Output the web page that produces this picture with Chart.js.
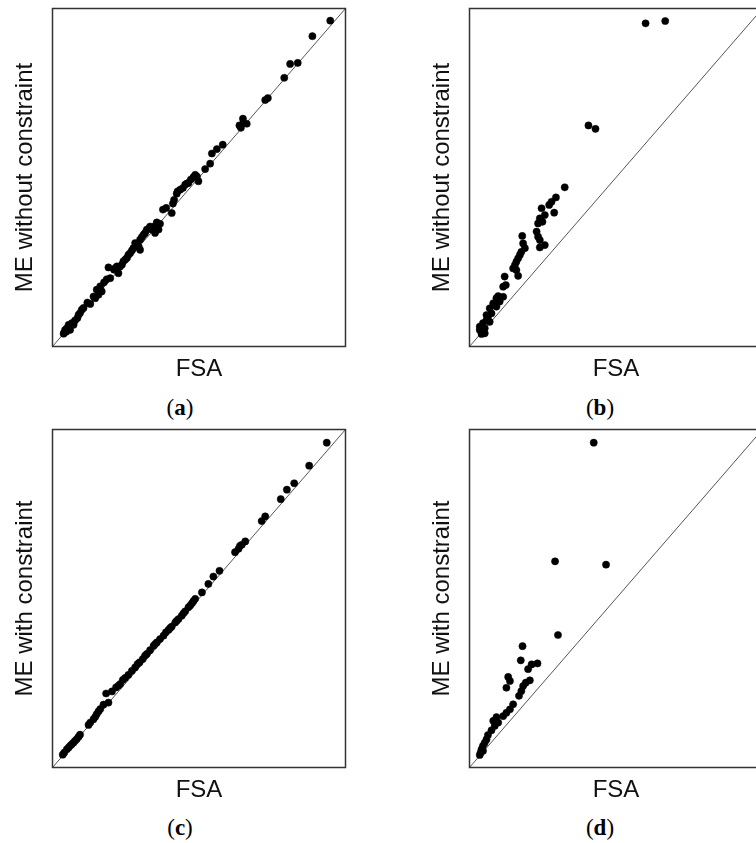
<!DOCTYPE html>
<html>
<head>
<meta charset="utf-8">
<title>ME vs FSA</title>
<script src="https://cdn.jsdelivr.net/npm/chart.js@4.4.1/dist/chart.umd.min.js"></script>
<style>
  html, body { margin: 0; padding: 0; background: #fff; width: 756px; height: 843px; overflow: hidden; }
  .panel { position: absolute; width: 378px; height: 390px; overflow: hidden; }
  .panel canvas { position: absolute; left: 0; top: 0; }
  .caption { position: absolute; width: 80px; margin-left: -40px; text-align: center;
             font-family: "Liberation Serif", "Times New Roman", serif; font-size: 23px; line-height: 26px; color: #000; }
</style>
</head>
<body>
<div class="panel" style="left:0;top:0"><canvas id="chartA" width="378" height="390"></canvas></div>
<div class="panel" style="left:417px;top:0;width:339px"><canvas id="chartB" width="378" height="390"></canvas></div>
<div class="panel" style="left:0;top:421px"><canvas id="chartC" width="378" height="390"></canvas></div>
<div class="panel" style="left:417px;top:421px;width:339px"><canvas id="chartD" width="378" height="390"></canvas></div>
<div class="caption" style="left:180px;top:395px">(<b>a</b>)</div>
<div class="caption" style="left:600px;top:395px">(<b>b</b>)</div>
<div class="caption" style="left:180px;top:815px">(<b>c</b>)</div>
<div class="caption" style="left:600px;top:815px">(<b>d</b>)</div>

<script>
// Axis range (no ticks shown, both axes share the same scale)
const axisMin = 0;
const axisMax = 100;

const xTitle = 'FSA';
const yTitles = ['ME without constraint', 'ME without constraint', 'ME with constraint', 'ME with constraint'];

// (a) ME without constraint vs FSA
const fsaA = [94.8, 88.7, 83.7, 81.1, 79.1, 73.5, 72.6, 65.0, 63.8, 65.2, 66.3, 64.3, 58.1, 56.1, 54.4, 53.8,
  52.1, 49.3, 48.1, 47.2, 46.4, 45.3, 44.5, 43.6, 42.4, 41.5, 41.1, 40.7, 38.8, 37.7, 36.7, 35.6, 34.7, 33.9,
  33.1, 32.2, 35.0, 31.6, 30.5, 29.9, 28.2, 29.4, 29.9, 27.6, 27.1, 25.9, 25.4, 24.2, 23.1, 22.0, 21.0, 22.5,
  19.1, 19.7, 18.5, 17.6, 16.3, 15.1, 16.8, 15.7, 14.6, 12.9, 11.9, 10.0, 9.4, 8.5, 7.7, 6.6, 5.5, 4.9, 4.3,
  4.0, 3.8, 6.0, 8.9, 24.8, 33.3,
  4.7, 6.0, 7.2, 10.6, 14.0, 16.3, 21.4, 23.7, 26.5, 28.8, 31.1, 34.5, 36.2, 42.7, 45.8, 48.7, 49.8];
const meA = [96.4, 91.8, 83.9, 83.6, 79.5, 73.5, 72.9, 67.4, 65.4, 66.1, 65.9, 64.7, 59.7, 58.4, 57.1, 54.1,
  52.5, 50.3, 50.1, 49.4, 48.4, 47.9, 46.9, 46.4, 45.2, 43.4, 42.3, 39.5, 41.0, 40.5, 36.3, 36.7, 35.5, 34.6,
  35.0, 34.6, 33.6, 33.6, 32.4, 31.6, 30.6, 29.6, 28.6, 29.1, 28.4, 27.1, 26.2, 25.2, 23.7, 23.7, 22.7, 21.7,
  23.4, 20.2, 19.9, 19.0, 17.8, 16.8, 16.3, 15.3, 14.3, 12.6, 13.0, 10.9, 9.9, 8.4, 7.7, 6.9, 6.4, 5.4, 4.9,
  4.1, 3.8, 5.9, 9.4, 25.7, 35.5,
  4.4, 4.9, 6.4, 11.4, 14.8, 16.3, 23.2, 24.2, 27.6, 30.1, 33.1, 35.0, 34.6, 45.9, 48.2, 50.8, 48.9];

// (b) ME without constraint vs FSA
const fsaB = [60.1, 66.8, 40.6, 43.0, 32.5, 29.5, 28.0, 27.2, 24.6, 28.9, 25.7, 24.0, 24.9, 23.4, 22.9, 23.4,
  24.0, 25.7, 24.0, 18.0, 18.3, 18.9, 17.7, 17.2, 16.6, 16.0, 15.5, 14.9, 16.0, 16.6, 12.0, 12.4, 11.5, 9.8,
  11.5, 9.2, 8.1, 9.2, 6.9, 7.5, 6.3, 5.8, 6.9, 4.6, 4.1, 5.2, 3.5, 4.6, 5.2, 4.1, 3.5, 5.8, 10.3];
const meB = [95.6, 96.3, 65.4, 64.4, 47.1, 44.1, 42.8, 41.9, 40.9, 39.6, 38.9, 37.9, 36.9, 36.4, 34.0, 32.5,
  31.5, 30.0, 29.3, 32.7, 30.5, 29.1, 28.0, 27.1, 26.1, 25.1, 24.1, 23.1, 22.6, 20.9, 20.7, 18.2, 17.7, 14.9,
  14.7, 14.3, 12.8, 11.8, 11.3, 9.8, 8.8, 7.8, 7.3, 6.9, 5.9, 5.4, 4.9, 4.4, 3.9, 3.7, 5.9, 9.3, 13.3];

// (c) ME with constraint vs FSA
const fsaC = [93.6, 87.6, 82.5, 80.0, 77.9, 72.6, 71.4, 65.8, 64.6, 63.5, 62.3, 57.0, 54.9, 53.2, 51.0, 48.7,
  47.6, 46.4, 45.3, 44.1, 43.0, 41.9, 40.7, 39.6, 37.9, 35.6, 34.5, 33.3, 32.2, 30.8, 29.7, 28.2, 27.1, 25.9,
  24.0, 23.1, 21.7, 20.3, 18.3, 19.1, 16.3, 15.1, 14.0, 12.3, 9.4, 8.3, 7.2, 6.0, 4.9, 4.0, 3.5,
  5.5, 6.6, 7.7, 8.9, 12.9, 14.6, 15.7, 17.4, 22.5, 24.8, 29.0, 31.6, 35.0, 36.7, 38.7, 40.2, 42.4, 44.7,
  47.0, 48.1, 64.0];
const meC = [96.1, 89.3, 84.1, 82.2, 79.4, 74.3, 72.9, 66.9, 65.9, 64.7, 63.7, 58.2, 56.5, 54.3, 51.8, 49.9,
  48.6, 47.4, 46.2, 44.9, 43.9, 42.9, 41.7, 40.7, 39.0, 37.0, 36.0, 34.7, 33.6, 32.1, 31.1, 29.6, 28.6, 27.4,
  25.9, 24.7, 23.7, 22.5, 21.9, 19.2, 17.3, 15.8, 14.3, 12.6, 9.7, 8.4, 7.4, 6.4, 5.4, 4.4, 3.8,
  5.9, 6.9, 7.9, 9.1, 13.3, 15.0, 16.6, 18.6, 24.2, 26.5, 30.6, 33.1, 36.5, 38.0, 40.0, 41.3, 43.4, 45.6,
  47.9, 49.2, 65.6];

// (d) ME with constraint vs FSA
const fsaD = [42.4, 29.2, 46.6, 30.2, 18.1, 17.5, 21.2, 23.2, 20.0, 13.2, 13.8, 12.6, 20.6, 19.2, 18.3, 17.7,
  16.9, 14.9, 13.8, 12.6, 11.5, 9.2, 9.8, 8.6, 7.5, 6.3, 5.8, 5.2, 4.6, 4.1, 3.8, 3.5, 4.6, 8.1];
const meD = [96.1, 61.0, 60.0, 39.2, 35.9, 31.7, 30.5, 30.8, 29.1, 26.8, 25.6, 23.6, 25.8, 25.1, 24.1, 22.6,
  21.2, 18.7, 17.2, 16.2, 15.2, 14.9, 13.3, 12.3, 11.0, 9.6, 8.3, 7.3, 6.4, 5.4, 4.4, 3.7, 4.9, 13.8];

const fontFamily = '"Liberation Sans", Arial, sans-serif';

// Draws the box round the plot area
const framePlugin = {
  id: 'frame',
  afterDatasetsDraw(chart) {
    const { ctx, chartArea: a } = chart;
    ctx.save();
    ctx.strokeStyle = '#333';
    ctx.lineWidth = 1.5;
    ctx.strokeRect(a.left, a.top, a.right - a.left, a.bottom - a.top);
    ctx.restore();
  }
};

function makePanel(canvasId, fsa, me, yTitle) {
  const points = fsa.map((x, i) => ({ x: x, y: me[i] }));
  return new Chart(document.getElementById(canvasId), {
    type: 'scatter',
    data: {
      datasets: [{
        data: points,
        backgroundColor: '#000',
        borderColor: '#000',
        borderWidth: 0.5,
        pointRadius: 3.6
      }, {
        // 1:1 line
        type: 'line',
        data: [{ x: axisMin, y: axisMin }, { x: axisMax, y: axisMax }],
        borderColor: '#555',
        borderWidth: 1,
        pointRadius: 0,
        fill: false
      }]
    },
    options: {
      responsive: false,
      animation: false,
      layout: { padding: { left: 6.6, top: 8.5, right: 32.5, bottom: 1.9 } },
      plugins: { legend: { display: false }, tooltip: { enabled: false } },
      scales: {
        x: {
          type: 'linear', min: axisMin, max: axisMax,
          ticks: { display: false }, grid: { display: false }, border: { display: false },
          title: { display: true, text: xTitle, color: '#111', font: { family: fontFamily, size: 24 } },
          afterFit: s => { s.height = 41.6; }
        },
        y: {
          type: 'linear', min: axisMin, max: axisMax,
          ticks: { display: false }, grid: { display: false }, border: { display: false },
          title: { display: true, text: yTitle, color: '#111', font: { family: fontFamily, size: 24 } },
          afterFit: s => { s.width = 45.9; }
        }
      }
    },
    plugins: [framePlugin]
  });
}

makePanel('chartA', fsaA, meA, yTitles[0]);
makePanel('chartB', fsaB, meB, yTitles[1]);
makePanel('chartC', fsaC, meC, yTitles[2]);
makePanel('chartD', fsaD, meD, yTitles[3]);
</script>
</body>
</html>
